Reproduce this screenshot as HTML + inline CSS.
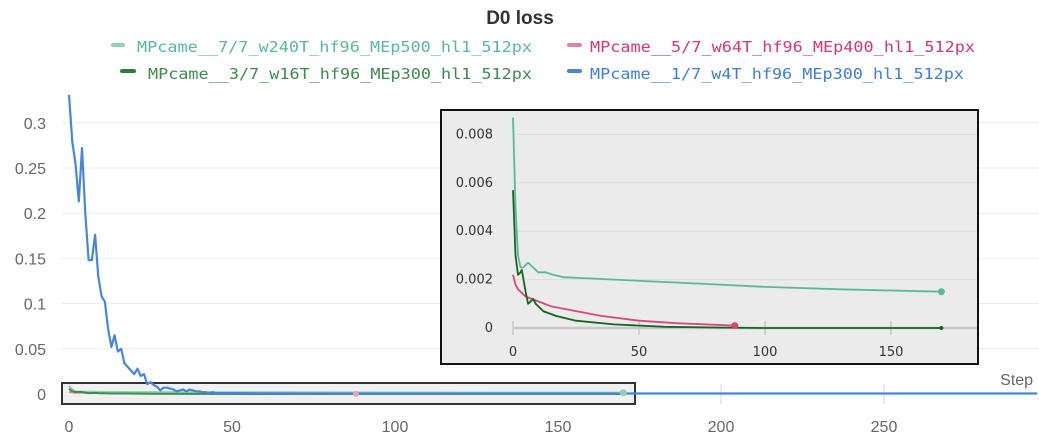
<!DOCTYPE html>
<html><head><meta charset="utf-8"><style>
body{margin:0;background:#fff;width:1039px;height:441px;overflow:hidden;font-family:"Liberation Sans",sans-serif}
svg{display:block}
</style></head><body>
<svg id="chart" width="1039" height="441" viewBox="0 0 1039 441" xmlns="http://www.w3.org/2000/svg">
<text x="520" y="24" text-anchor="middle" font-size="19" font-weight="bold" fill="#333">D0 loss</text>
<g font-family="DejaVu Sans Mono, Liberation Mono, monospace" font-size="15">
<g><rect x="111" y="43" width="14" height="4" rx="2" fill="#8fd1bd"/><text x="137" y="52" fill="#5ab79b" textLength="395" lengthAdjust="spacingAndGlyphs">MPcame__7/7_w240T_hf96_MEp500_hl1_512px</text></g>
<g><rect x="567" y="43" width="15" height="4" rx="2" fill="#e383a4"/><text x="590" y="52" fill="#d8386c" textLength="385" lengthAdjust="spacingAndGlyphs">MPcame__5/7_w64T_hf96_MEp400_hl1_512px</text></g>
<g><rect x="120" y="69" width="16" height="4" rx="2" fill="#2f7d42"/><text x="148" y="79" fill="#3d8a4f" textLength="384" lengthAdjust="spacingAndGlyphs">MPcame__3/7_w16T_hf96_MEp300_hl1_512px</text></g>
<g><rect x="567" y="69" width="15" height="4" rx="2" fill="#4a86d8"/><text x="590" y="79" fill="#3f7ed6" textLength="374" lengthAdjust="spacingAndGlyphs">MPcame__1/7_w4T_hf96_MEp300_hl1_512px</text></g>
</g>
<g id="main"></g>
<g id="inset"></g>
</svg>
<script>
const blueX=[0,1,2,3,4,5,6,7,8,9,10,11,12,13,14,15,16,17,18,19,20,21,22,23,24,25,26,27,28,29,30,31,32,33,34,35,36,37,38,39,40,41,42,43,44,45,50,60,80,100,150,200,250,297];
const blueY=[0.331,0.279,0.255,0.213,0.272,0.2,0.148,0.148,0.176,0.13,0.108,0.102,0.072,0.052,0.065,0.047,0.05,0.034,0.03,0.026,0.022,0.028,0.02,0.022,0.011,0.013,0.01,0.008,0.004,0.007,0.007,0.006,0.005,0.003,0.004,0.005,0.003,0.005,0.004,0.003,0.003,0.002,0.002,0.001,0.002,0.001,0.001,0.0008,0.0006,0.0005,0.0005,0.0005,0.0005,0.0005];
const tealX=[0,1,2,3,4,6,8,10,13,16,20,30,40,60,80,100,130,150,170];
const tealY=[0.0087,0.005,0.003,0.0025,0.0025,0.0027,0.0025,0.0023,0.0023,0.0022,0.0021,0.00205,0.002,0.0019,0.0018,0.0017,0.0016,0.00155,0.0015];
const greenX=[0,1,2,3,3.5,5,6,8,9,12,17,25,40,60,80,100,170];
const greenY=[0.0057,0.003,0.0022,0.0023,0.0024,0.0015,0.001,0.0012,0.001,0.0007,0.0005,0.0003,0.00015,0.00005,0.00002,0,0];
const pinkX=[0,1,2,5,10,15,25,35,50,65,88];
const pinkY=[0.0022,0.0018,0.0016,0.0013,0.0011,0.0009,0.0007,0.0005,0.0003,0.0002,0.0001];
const mainYTicks=[0,0.05,0.1,0.15,0.2,0.25,0.3];
const mainYLabels=["0","0.05","0.1","0.15","0.2","0.25","0.3"];
const mainXTicks=[0,50,100,150,200,250];
const insetYTicks=[0,0.002,0.004,0.006,0.008];
const insetYLabels=["0","0.002","0.004","0.006","0.008"];
const insetXTicks=[0,50,100,150];

const NS="http://www.w3.org/2000/svg";
function mk(parent,tag,attrs){const e=document.createElementNS(NS,tag);for(const k in attrs)e.setAttribute(k,attrs[k]);parent.appendChild(e);return e;}
const mx=v=>69+v*3.26, my=v=>394-v*904;
const ix=v=>513+v*2.52, iy=v=>328-v*24200;
const main=document.getElementById('main');
mainYTicks.forEach((t,i)=>{
  if(t>0){const g=mk(main,'line',{x1:62,x2:1039,y1:my(t),y2:my(t),stroke:'#ececec','stroke-width':1});
  
  }
  const l=mk(main,'text',{x:46,y:my(t)+6,'text-anchor':'end','font-size':16,fill:'#666'});
  
  
  l.textContent=mainYLabels[i];
});
mainXTicks.forEach(t=>{
  const g=mk(main,'line',{x1:mx(t),x2:mx(t),y1:384,y2:404,stroke:'#e4e4e4','stroke-width':1.5});
  
  
  const l=mk(main,'text',{x:mx(t),y:432,'text-anchor':'middle','font-size':16,fill:'#666'});
  
  
  l.textContent=String(t);
});
const st=mk(main,'text',{x:1033,y:385,'text-anchor':'end','font-size':16,fill:'#666'});


st.textContent='Step';
const zb=mk(main,'rect',{x:62,y:383,width:573,height:21,fill:'#f1f1f1',stroke:'#333','stroke-width':2});


function path(g,xs,ys,fx,fy,color,w,name){
  const d=xs.map((x,i)=>(i?'L':'M')+fx(x).toFixed(1)+' '+fy(ys[i]).toFixed(1)).join(' ');
  const p=mk(g,'path',{d:d,fill:'none',stroke:color,'stroke-width':w,'stroke-linejoin':'round'});
  
  
}
path(main,pinkX,pinkY,mx,my,'#e383a4',2,'series-5-7');
path(main,tealX,tealY,mx,my,'#8fd1bd',2,'series-7-7');
path(main,greenX,greenY,mx,my,'#3d8a4f',2,'series-3-7');
path(main,blueX,blueY,mx,my,'#4a86d8',2.2,'series-1-7');
const d1=mk(main,'circle',{cx:mx(170),cy:my(0.0015),r:3.5,fill:'#8fd1bd'});


const d2=mk(main,'circle',{cx:mx(88),cy:my(0.0001),r:3,fill:'#e8a0b8'});



const ins=document.getElementById('inset');
const bg=mk(ins,'rect',{x:441,y:110,width:537,height:254,fill:'#ebebeb',stroke:'#111','stroke-width':2});


insetYTicks.forEach((t,i)=>{
  if(t>0){const g=mk(ins,'line',{x1:516,x2:977,y1:iy(t),y2:iy(t),stroke:'#dcdcdc','stroke-width':1});
  
  }
  const l=mk(ins,'text',{x:493,y:iy(t)+4,'text-anchor':'end','font-size':13,fill:'#333','font-family':'DejaVu Sans, sans-serif'});
  
  
  l.textContent=insetYLabels[i];
});
const ax=mk(ins,'line',{x1:513,x2:977,y1:iy(0),y2:iy(0),stroke:'#c8c8c8','stroke-width':2.5});


insetXTicks.forEach(t=>{
  const g=mk(ins,'line',{x1:ix(t),x2:ix(t),y1:321,y2:335,stroke:'#c8c8c8','stroke-width':1.5});
  
  
  const l=mk(ins,'text',{x:ix(t),y:356,'text-anchor':'middle','font-size':13,fill:'#333','font-family':'DejaVu Sans, sans-serif'});
  
  
  l.textContent=String(t);
});
path(ins,pinkX,pinkY,ix,iy,'#d6487a',1.8,'inset-series-5-7');
path(ins,tealX,tealY,ix,iy,'#5ab99a',1.8,'inset-series-7-7');
path(ins,greenX,greenY,ix,iy,'#14651f',1.8,'inset-series-3-7');
const d3=mk(ins,'circle',{cx:ix(170),cy:iy(0.0015),r:3.5,fill:'#5ab99a'});


const d4=mk(ins,'circle',{cx:ix(88),cy:iy(0.0001),r:3.5,fill:'#d6487a'});


const d5=mk(ins,'circle',{cx:ix(170),cy:iy(0),r:2,fill:'#14651f'});


</script>
</body></html>
